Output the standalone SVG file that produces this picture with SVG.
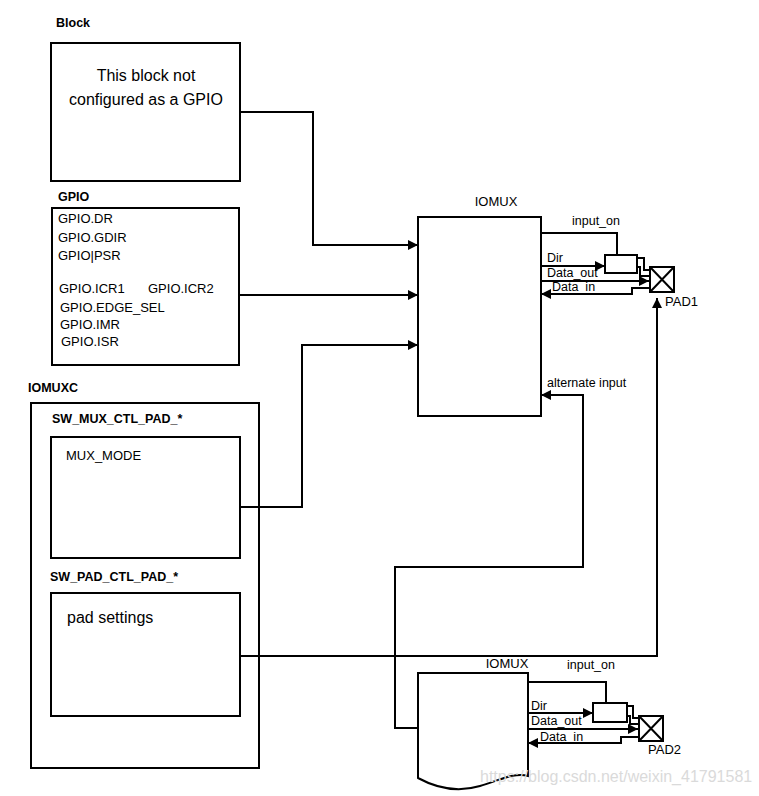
<svg xmlns="http://www.w3.org/2000/svg" width="759" height="796" viewBox="0 0 759 796">
<defs>
<style>
.box{fill:#fff;stroke:#000;stroke-width:2}
.ln{fill:none;stroke:#000;stroke-width:2}
.arr{fill:none;stroke:#000;stroke-width:2;marker-end:url(#ah)}
text{font-family:"Liberation Sans",Arial,sans-serif;fill:#000}
.b{font-weight:bold;font-size:12.5px}
.r{font-size:13px}
.big{font-size:16px}
.lbl{font-size:12.5px}
.wm{font-size:16px;fill:#dadada}
</style>
<marker id="ah" viewBox="0 0 10 10" refX="10" refY="5" markerWidth="10" markerHeight="10" markerUnits="userSpaceOnUse" orient="auto">
<path d="M0,0 L10,5 L0,10 z" fill="#000"/>
</marker>
</defs>
<rect width="759" height="796" fill="#fff"/>

<g id="block">
<text class="b" x="56" y="27">Block</text>
<rect class="box" x="51" y="43" width="189" height="138"/>
<text class="big" x="146" y="81" text-anchor="middle">This block not</text>
<text class="big" x="146" y="105" text-anchor="middle">configured as a GPIO</text>
</g>

<g id="gpio">
<text class="b" x="58" y="201">GPIO</text>
<rect class="box" x="52" y="208" width="187" height="157"/>
<text class="r" x="58" y="223">GPIO.DR</text>
<text class="r" x="58" y="242">GPIO.GDIR</text>
<text class="r" x="58" y="260">GPIO|PSR</text>
<text class="r" x="59" y="293">GPIO.ICR1</text>
<text class="r" x="148" y="293">GPIO.ICR2</text>
<text class="r" x="60" y="312">GPIO.EDGE_SEL</text>
<text class="r" x="60" y="329">GPIO.IMR</text>
<text class="r" x="61" y="346">GPIO.ISR</text>
</g>

<g id="iomuxc">
<text class="b" x="28" y="392">IOMUXC</text>
<rect class="box" x="31" y="403" width="228" height="365"/>
<text class="b" x="52" y="423">SW_MUX_CTL_PAD_*</text>
<text class="b" x="50" y="581">SW_PAD_CTL_PAD_*</text>
</g>

<g id="mux">
<rect class="box" x="51" y="437" width="189" height="121"/>
<text class="r" x="66" y="460">MUX_MODE</text>
</g>

<g id="padset">
<rect class="box" x="51" y="593" width="189" height="123"/>
<text class="big" x="67" y="623">pad settings</text>
</g>

<g id="iomux1">
<text class="r" x="496" y="206" text-anchor="middle">IOMUX</text>
<rect class="box" x="418" y="217" width="123" height="199"/>
</g>

<g id="buf1">
<rect class="box" x="605" y="255" width="32" height="18"/>
</g>

<g id="pad1">
<rect class="box" x="650" y="267" width="24" height="25"/>
<path class="ln" d="M650,267 L674,292 M674,267 L650,292"/>
<text class="r" x="665" y="306">PAD1</text>
</g>

<g id="iomux2">
<text class="r" x="507" y="668" text-anchor="middle">IOMUX</text>
<path class="box" d="M418,673 L528,673 L528,776 C515,772 500,780 480,786 C460,792 440,790 418,778 Z"/>
</g>

<g id="buf2">
<rect class="box" x="593" y="703" width="34" height="19"/>
</g>

<g id="pad2">
<rect class="box" x="639" y="716" width="24" height="25"/>
<path class="ln" d="M639,716 L663,741 M663,716 L639,741"/>
<text class="r" x="648" y="754">PAD2</text>
</g>

<g id="connectors">
<path class="arr" d="M240,112 L313,112 L313,245 L418,245"/>
<path class="arr" d="M239,295 L418,295"/>
<path class="arr" d="M240,507 L302,507 L302,345 L418,345"/>
<path class="arr" d="M240,656 L657,656 L657,298"/>
<path class="arr" d="M418,728 L395,728 L395,567 L583,567 L583,395 L541,395"/>

<path class="ln" d="M541,233 L617,233 L617,255"/>
<path class="arr" d="M541,266 L605,266"/>
<path class="arr" d="M541,281 L649,281"/>
<path class="arr" d="M650,288 L632,288 L632,294 L541,294"/>
<path class="ln" d="M637,258 L644,258 L644,270 L650,270"/>
<path class="ln" d="M637,267 L640,267 L640,276 L650,276"/>

<path class="ln" d="M528,682 L606,682 L606,703"/>
<path class="arr" d="M528,713 L593,713"/>
<path class="arr" d="M528,729 L638,729"/>
<path class="arr" d="M639,737 L621,737 L621,743 L528,743"/>
<path class="ln" d="M627,706 L633,706 L633,718 L639,718"/>
<path class="ln" d="M627,716 L630,716 L630,724 L639,724"/>

<text class="lbl" x="572" y="225">input_on</text>
<text class="lbl" x="547" y="262">Dir</text>
<text class="lbl" x="547" y="277">Data_out</text>
<text class="lbl" x="552" y="291">Data_in</text>
<text class="lbl" x="547" y="387">alternate input</text>
<text class="lbl" x="567" y="669">input_on</text>
<text class="lbl" x="531" y="710">Dir</text>
<text class="lbl" x="531" y="725">Data_out</text>
<text class="lbl" x="540" y="741">Data_in</text>
</g>

<text class="wm" x="480" y="782">https://blog.csdn.net/weixin_41791581</text>
</svg>
